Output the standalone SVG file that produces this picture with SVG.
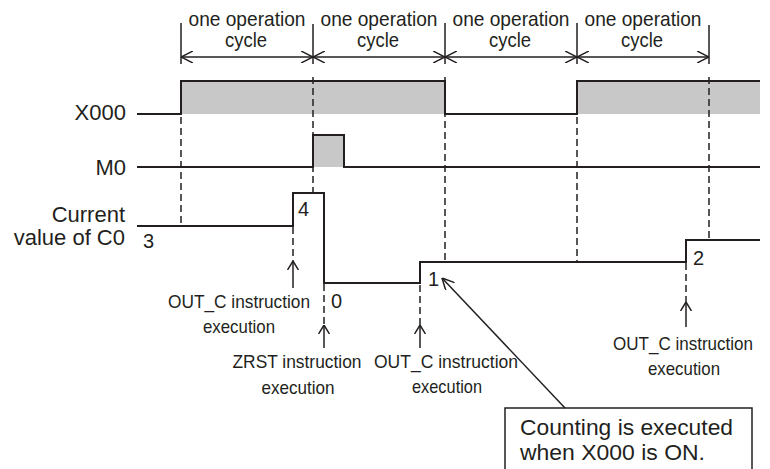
<svg xmlns="http://www.w3.org/2000/svg" width="770" height="469" viewBox="0 0 770 469">
<style>
text{font-family:"Liberation Sans",Arial,sans-serif;fill:#231f20}
.lbl{font-size:22px}
.cyc{font-size:21px;text-anchor:middle}
.num{font-size:20px}
.note{font-size:18.5px;text-anchor:middle}
.box{font-size:22px}
.wave{fill:none;stroke:#231f20;stroke-width:2}
.fill{fill:#c8c8c8;stroke:none}
.dim{fill:none;stroke:#231f20;stroke-width:1.5}
.dash{fill:none;stroke:#231f20;stroke-width:1.5;stroke-dasharray:7,4}
.arr{fill:none;stroke:#231f20;stroke-width:1.5}
</style>
<defs>
<marker id="chev" viewBox="0 0 12 12" refX="12" refY="6" markerWidth="12" markerHeight="12" markerUnits="userSpaceOnUse" orient="auto-start-reverse">
<path d="M0,0 L12,6 L0,12" fill="none" stroke="#231f20" stroke-width="1.5"/>
</marker>
<marker id="up" viewBox="0 0 9 12" refX="9" refY="6" markerWidth="9" markerHeight="12" markerUnits="userSpaceOnUse" orient="auto">
<path d="M0,0.5 L9,6 L0,11.5" fill="none" stroke="#231f20" stroke-width="1.5"/>
</marker>
</defs>

<g id="cycles">
<line class="dim" x1="181" y1="23" x2="181" y2="64"/>
<line class="dim" x1="313" y1="24" x2="313" y2="64"/>
<line class="dim" x1="445" y1="23" x2="445" y2="64"/>
<line class="dim" x1="577" y1="23" x2="577" y2="64"/>
<line class="dim" x1="709" y1="25" x2="709" y2="64"/>
<text class="cyc" x="247" y="26" textLength="117" lengthAdjust="spacingAndGlyphs">one operation</text>
<text class="cyc" x="246" y="47" textLength="42" lengthAdjust="spacingAndGlyphs">cycle</text>
<text class="cyc" x="379" y="26" textLength="117" lengthAdjust="spacingAndGlyphs">one operation</text>
<text class="cyc" x="378" y="47" textLength="42" lengthAdjust="spacingAndGlyphs">cycle</text>
<text class="cyc" x="511" y="26" textLength="117" lengthAdjust="spacingAndGlyphs">one operation</text>
<text class="cyc" x="510" y="47" textLength="42" lengthAdjust="spacingAndGlyphs">cycle</text>
<text class="cyc" x="643" y="26" textLength="117" lengthAdjust="spacingAndGlyphs">one operation</text>
<text class="cyc" x="642" y="47" textLength="42" lengthAdjust="spacingAndGlyphs">cycle</text>
</g>

<g id="X000">
<text class="lbl" x="126" y="120" text-anchor="end">X000</text>
<rect class="fill" x="181" y="81" width="264" height="33"/>
<rect class="fill" x="577" y="81" width="183" height="33"/>
<path class="wave" d="M137,114 H181 V81 H445 V114 H577 V81 H760"/>
</g>

<g id="M0">
<text class="lbl" x="126" y="175" text-anchor="end">M0</text>
<rect class="fill" x="313" y="135" width="31" height="32"/>
<path class="wave" d="M137,167 H313 V135 H344 V167 H760"/>
</g>

<g id="C0">
<text class="lbl" x="125" y="222" text-anchor="end">Current</text>
<text class="lbl" x="125" y="245" text-anchor="end">value of C0</text>
<text class="num" x="143" y="248">3</text>
<text class="num" x="298" y="216">4</text>
<text class="num" x="331" y="308">0</text>
<text class="num" x="428" y="286">1</text>
<text class="num" x="693" y="265">2</text>
<path class="wave" d="M137,226 H293 V193 H324 V283 H420 V262 H686 V240 H760"/>
</g>

<g id="notes">
<text class="note" x="239" y="308" textLength="142" lengthAdjust="spacingAndGlyphs">OUT_C instruction</text>
<text class="note" x="239" y="333" textLength="72" lengthAdjust="spacingAndGlyphs">execution</text>
<text class="note" x="297" y="368" textLength="129" lengthAdjust="spacingAndGlyphs">ZRST instruction</text>
<text class="note" x="298" y="394" textLength="73" lengthAdjust="spacingAndGlyphs">execution</text>
<text class="note" x="446" y="368" textLength="144" lengthAdjust="spacingAndGlyphs">OUT_C instruction</text>
<text class="note" x="447" y="393" textLength="70" lengthAdjust="spacingAndGlyphs">execution</text>
<text class="note" x="683" y="350" textLength="140" lengthAdjust="spacingAndGlyphs">OUT_C instruction</text>
<text class="note" x="684" y="375" textLength="72" lengthAdjust="spacingAndGlyphs">execution</text>
</g>

<g id="callout">
<rect x="505" y="408" width="247" height="70" fill="#fff" stroke="#231f20" stroke-width="1.5"/>
<text class="box" x="520" y="435" textLength="213" lengthAdjust="spacingAndGlyphs">Counting is executed</text>
<text class="box" x="520" y="460" textLength="185" lengthAdjust="spacingAndGlyphs">when X000 is ON.</text>
</g>

<g id="connectors">
<line class="dim" x1="181" y1="57" x2="313" y2="57" marker-start="url(#chev)" marker-end="url(#chev)"/>
<line class="dim" x1="313" y1="57" x2="445" y2="57" marker-start="url(#chev)" marker-end="url(#chev)"/>
<line class="dim" x1="445" y1="57" x2="577" y2="57" marker-start="url(#chev)" marker-end="url(#chev)"/>
<line class="dim" x1="577" y1="57" x2="709" y2="57" marker-start="url(#chev)" marker-end="url(#chev)"/>
<line class="dash" x1="181" y1="117" x2="181" y2="225"/>
<line class="dash" x1="313" y1="77" x2="313" y2="192"/>
<line class="dash" x1="445" y1="77" x2="445" y2="261"/>
<line class="dash" x1="577" y1="117" x2="577" y2="261"/>
<line class="dash" x1="709" y1="77" x2="709" y2="239"/>
<line class="dash" x1="293" y1="227" x2="293" y2="262"/>
<line class="dash" x1="324" y1="284" x2="324" y2="325"/>
<line class="dash" x1="420" y1="263" x2="420" y2="325"/>
<line class="dash" x1="686" y1="241" x2="686" y2="302"/>
<line class="arr" x1="293" y1="288" x2="293" y2="261" marker-end="url(#up)"/>
<line class="arr" x1="324" y1="348" x2="324" y2="325" marker-end="url(#up)"/>
<line class="arr" x1="420" y1="348" x2="420" y2="325" marker-end="url(#up)"/>
<line class="arr" x1="686" y1="327" x2="686" y2="302" marker-end="url(#up)"/>
<line class="arr" x1="565" y1="408" x2="442" y2="278" marker-end="url(#chev)"/>
</g>
</svg>
